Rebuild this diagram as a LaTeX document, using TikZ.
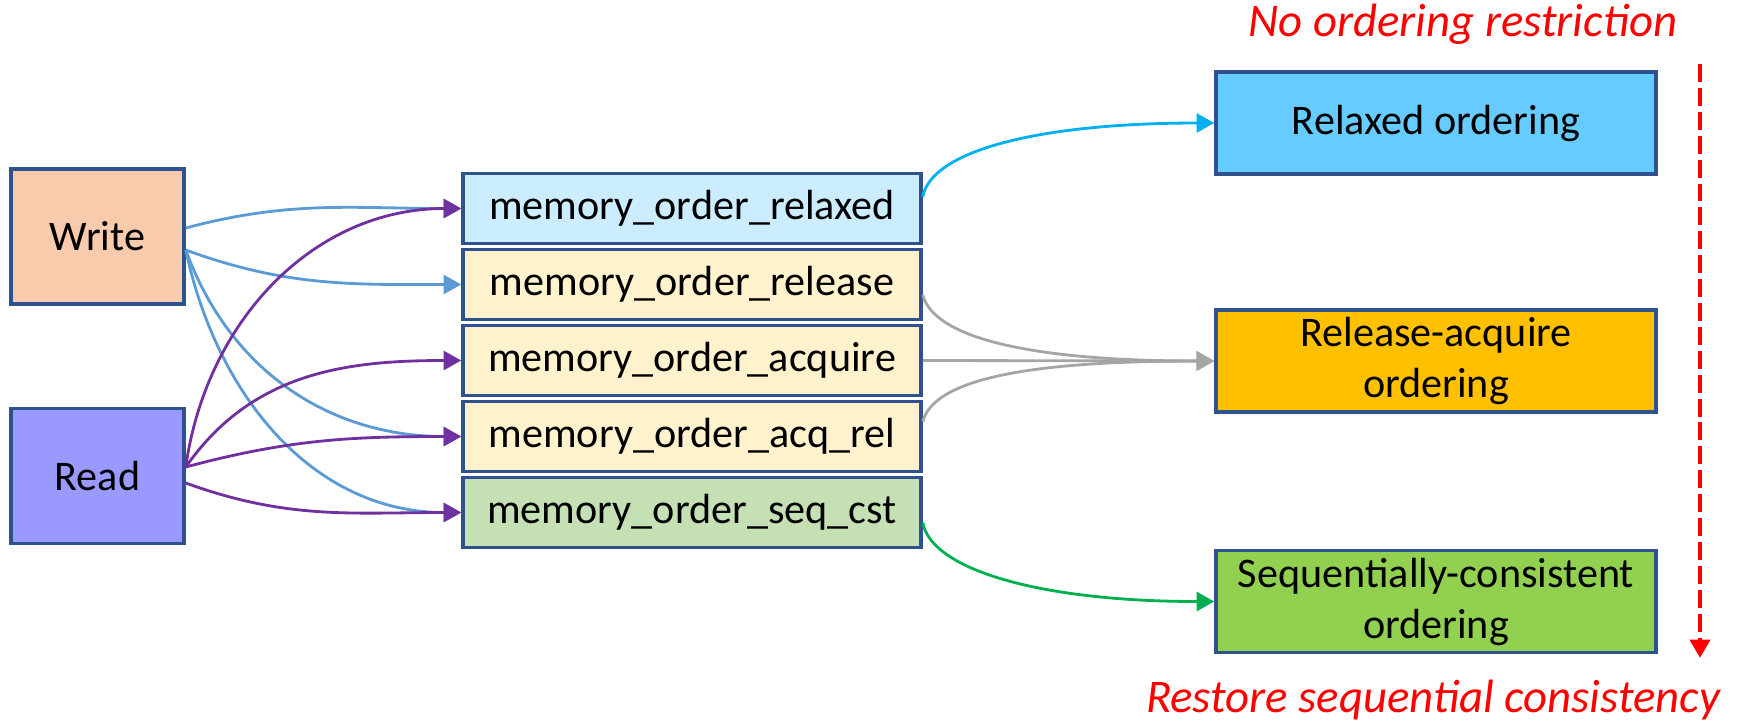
\documentclass[tikz,border=0pt]{standalone}
\usepackage{fontspec}
\setmainfont{Carlito}
\usetikzlibrary{arrows.meta}

\definecolor{edge}{HTML}{2F528F}
\definecolor{wfill}{HTML}{F8CBAD}
\definecolor{rfill}{HTML}{9999FF}
\definecolor{mrel}{HTML}{CCECFF}
\definecolor{mpair}{HTML}{FFF2CC}
\definecolor{mseq}{HTML}{C5E0B4}
\definecolor{orel}{HTML}{66CCFF}
\definecolor{oacq}{HTML}{FFC000}
\definecolor{oseq}{HTML}{92D050}
\definecolor{lblue}{HTML}{5B9BD5}
\definecolor{lpurple}{HTML}{7030A0}
\definecolor{lcyan}{HTML}{00B0F0}
\definecolor{lgray}{HTML}{A5A5A5}
\definecolor{lgreen}{HTML}{00B050}

\begin{document}
\begin{tikzpicture}[
	src/.style = {rectangle, draw=edge, line width=1pt, minimum width=1.73cm, minimum height=1.35cm, font=\fontsize{12}{14.5}\selectfont},
	mo/.style  = {rectangle, draw=edge, line width=1pt, minimum width=4.58cm, minimum height=0.70cm, inner sep=0pt, font=\fontsize{12}{14.5}\selectfont},
	ord/.style = {rectangle, draw=edge, line width=1pt, minimum width=4.40cm, minimum height=1.02cm, inner sep=0pt, align=center, font=\fontsize{12}{14.5}\selectfont},
	note/.style = {text=red, font=\fontsize{13.3}{16}\selectfont\itshape},
	r/.style = {-{Triangle[length=5pt, width=5.4pt]}, line width=0.8pt},
	bend/.style = {out=#1, in=180, out looseness=0.4, in looseness=1.5},
	redarrow/.style = {red, line width=1.4pt, dash pattern=on 5.1pt off 1.7pt, -{Triangle[length=5.2pt, width=5.6pt]}}
	]
	
	\useasboundingbox (0, 0) rectangle (17.37, -7.24);
	
	% ===== ===== ===== ===== =====
	
	% Nodes
	\node[src, fill=wfill]	(write)	at	(0.975, -2.365)	{Write};
	\node[src, fill=rfill]	(read)	at	(0.975, -4.76)	{Read};
	
	\node[mo, fill=mrel]	(mrelaxed)	at	(6.92, -2.085)	{memory\_order\_relaxed};
	\node[mo, fill=mpair]	(mrelease)	at	(6.92, -2.845)	{memory\_order\_release};
	\node[mo, fill=mpair]	(macquire)	at	(6.92, -3.605)	{memory\_order\_acquire};
	\node[mo, fill=mpair]	(macqrel)	at	(6.92, -4.365)	{memory\_order\_acq\_rel};
	\node[mo, fill=mseq]	(mseqcst)	at	(6.92, -5.125)	{memory\_order\_seq\_cst};
	
	\node[ord, fill=orel]	(orelaxed)	at	(14.36, -1.23)	{Relaxed ordering};
	\node[ord, fill=oacq]	(orelacq)	at	(14.36, -3.61)	{Release-acquire\\ordering};
	\node[ord, fill=oseq]	(oseqcst)	at	(14.36, -6.015)	{Sequentially-consistent\\ordering};
	
	\node[note]	(notop)	at	(14.63, -0.24)	{No ordering restriction};
	\node[note]	(nobot)	at	(14.33, -7.00)	{Restore sequential consistency};
	
	\coordinate	(arrtop)	at	(17.00, -0.64);
	\coordinate	(arrbot)	at	(17.00, -6.58);
	
	
	
	% Lines
	\draw[r, lblue]	([yshift=0.85mm]write.east)	to[out=15, in=180]	(mrelaxed.west);
	\draw[r, lblue]	([yshift=-1.35mm]write.east)	to[out=-20, in=180]	(mrelease.west);
	\draw[r, lblue]	([yshift=-1.35mm]write.east)	to[out=-70, in=180]	(macqrel.west);
	\draw[r, lblue]	([yshift=-1.35mm]write.east)	to[out=-78, in=180]	(mseqcst.west);
	
	\draw[r, lpurple]	([yshift=0.9mm]read.east)	to[out=82, in=180]	(mrelaxed.west);
	\draw[r, lpurple]	([yshift=0.9mm]read.east)	to[out=55, in=180]	(macquire.west);
	\draw[r, lpurple]	([yshift=0.9mm]read.east)	to[out=15, in=180]	(macqrel.west);
	\draw[r, lpurple]	([yshift=-0.7mm]read.east)	to[out=-20, in=180]	(mseqcst.west);
	
	\draw[r, lcyan]	([yshift=1.15mm]mrelaxed.east)	to[bend=80]	(orelaxed.west);
	\draw[r, lgray]	([yshift=-1.05mm]mrelease.east)	to[bend=-75]	(orelacq.west);
	\draw[r, lgray]	(macquire.east)	--	(orelacq.west);
	\draw[r, lgray]	([yshift=1.5mm]macqrel.east)	to[bend=75]	(orelacq.west);
	\draw[r, lgreen]	([yshift=-1.0mm]mseqcst.east)	to[bend=-80]	(oseqcst.west);
	
	\draw[redarrow]	(arrtop)	--	(arrbot);
	
\end{tikzpicture}
\end{document}
